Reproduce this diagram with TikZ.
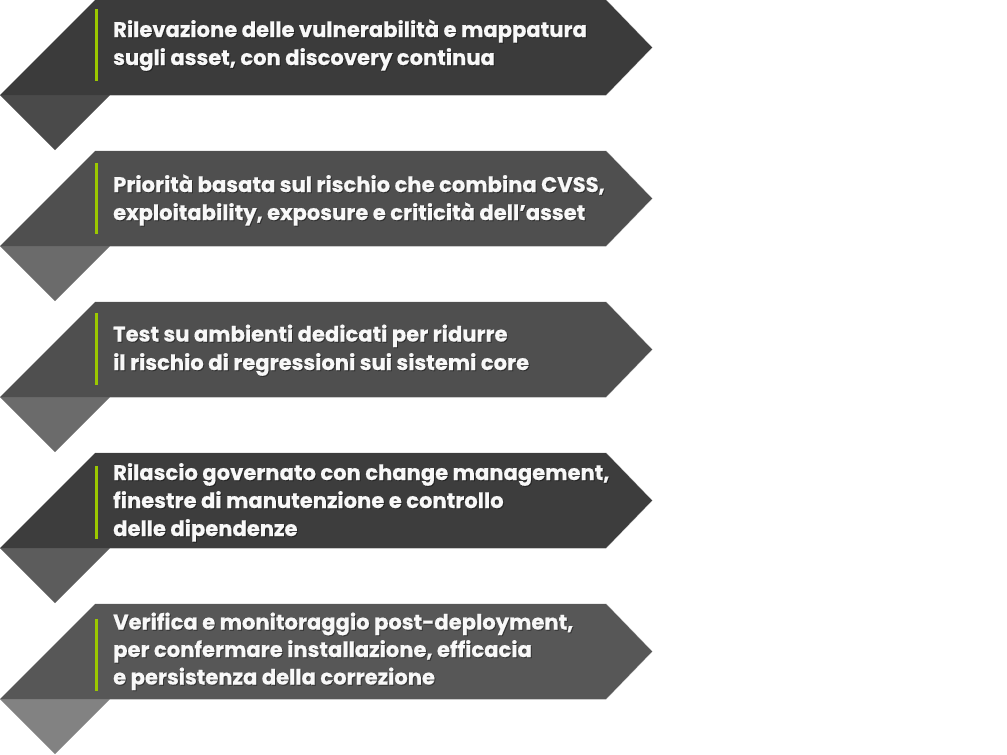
\documentclass[tikz,border=0pt]{standalone}
\usepackage{fontspec}
\setmainfont{Poppins}[BoldFeatures={FakeBold=0.6}]
\definecolor{limebar}{RGB}{155,200,0}
\definecolor{txtw}{RGB}{248,248,248}
\tikzset{
  banner/.style={fill=#1},
  bannerrim/.style={draw=black!22, line width=1pt, line join=miter},
  flap/.style={fill=#1},
  gbar/.style={fill=limebar},
  ltxt/.style={anchor=base west, inner sep=0pt, text=txtw, font=\fontsize{21.1}{28}\selectfont\bfseries},
  lshadow/.style={anchor=base west, inner sep=0pt, text=black, opacity=0.35, font=\fontsize{21.1}{28}\selectfont\bfseries}
}
\newcommand{\bannerat}[3]{%
  \fill[flap=#3] (0,#1+95) -- (110,#1+95) -- (55,#1+150) -- cycle;
  \draw[bannerrim] (95,#1) -- (606,#1) -- (652,#1+47.5) -- (606,#1+95) -- (110,#1+95);
  \fill[banner=#2] (95,#1) -- (606,#1) -- (652,#1+47.5) -- (606,#1+95) -- (0,#1+95) -- cycle;
}
\newcommand{\tline}[3]{%
  \node[lshadow] (#1s) at (114,#2+1) {#3};
  \node[ltxt] (#1) at (113,#2) {#3};
}
\begin{document}
\begin{tikzpicture}[x=1pt,y=-1pt]
\useasboundingbox (0,0) rectangle (1007,755);
% banners
\bannerat{0}{black!77}{black!71}
\bannerat{151}{black!69}{black!58}
\bannerat{302}{black!69}{black!58}
\bannerat{453}{black!76}{black!64}
\bannerat{604}{black!66}{black!49}
% green bars
\fill[gbar] (95,9) rectangle (98,81);
\fill[gbar] (95,163) rectangle (98,234);
\fill[gbar] (95,313) rectangle (98,385);
\fill[gbar] (95,466) rectangle (98,539);
\fill[gbar] (95,619) rectangle (98,691);
% texts
\tline{t11}{37}{Rilevazione delle vulnerabilità e mappatura}
\tline{t12}{65}{sugli asset, con discovery continua}
\tline{t21}{192}{Priorità basata sul rischio che combina CVSS,}
\tline{t22}{220}{exploitability, exposure e criticità dell’asset}
\tline{t31}{341.5}{Test su ambienti dedicati per ridurre}
\tline{t32}{370}{il rischio di regressioni sui sistemi core}
\tline{t41}{480}{Rilascio governato con change management,}
\tline{t42}{508}{finestre di manutenzione e controllo}
\tline{t43}{536}{delle dipendenze}
\tline{t51}{629.5}{Verifica e monitoraggio post-deployment,}
\tline{t52}{657}{per confermare installazione, efficacia}
\tline{t53}{684.5}{e persistenza della correzione}
\end{tikzpicture}
\end{document}
